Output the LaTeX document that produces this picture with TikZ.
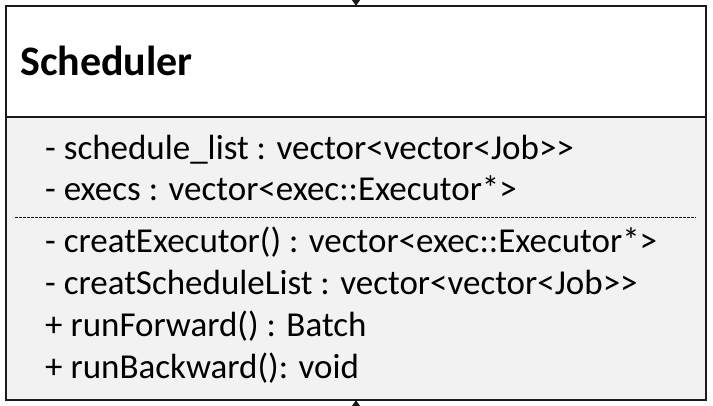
\documentclass[tikz,border=0pt]{standalone}
\usepackage{fontspec}
\setmainfont{Carlito}
\usetikzlibrary{positioning,arrows.meta}
\definecolor{boxgray}{HTML}{F2F2F2}
\definecolor{umlline}{HTML}{1A1A1A}
\tikzset{
  classbox/.style={draw=umlline, line width=1.6pt, minimum width=700pt, inner sep=0pt, outer sep=0pt},
  member/.style={anchor=base west, inner sep=0pt, font=\fontsize{35}{40}\selectfont},
  assoc/.style={draw=umlline, line width=1.6pt, -{Triangle[length=7pt,width=9pt]}},
  divider/.style={draw=umlline, line width=0.9pt, dash pattern=on 2.5pt off 1.5pt}
}

\begin{document}
\begin{tikzpicture}[x=1pt,y=-1pt]
    \useasboundingbox[fill=white] (0,0) rectangle (713,405);
    % class box: name part and member part
    \node[classbox, minimum height=111pt, anchor=north west] (head) at (6,6) {};
    \node[classbox, fill=boxgray, minimum height=283pt, below=0pt of head] (body) {};
    \node[member, font=\fontsize{42}{46}\selectfont\bfseries] (name) at (20,75) {Scheduler};
    % attributes
    \node[member] (attrA) at (45,159) {- schedule\_list : vector<vector<Job>{}>};
    \node[member] (attrB) at (45,200) {- execs : vector<exec::Executor*>};
    \draw[divider] (15,217) -- (696,217);
    % operations
    \node[member] (opA) at (45,252) {- creatExecutor() : vector<exec::Executor*>};
    \node[member] (opB) at (45,294) {- creatScheduleList : vector<vector<Job>{}>};
    \node[member] (opC) at (45,336) {+ runForward() : Batch};
    \node[member] (opD) at (45,378) {+ runBackward(): void};
    % links from outside
    \coordinate (src) at (356,-40);
    \coordinate (dst) at (356,440);
    \draw[assoc] (src) -- (head.north);
    \draw[assoc] (dst) -- (body.south);
\end{tikzpicture}
\end{document}
